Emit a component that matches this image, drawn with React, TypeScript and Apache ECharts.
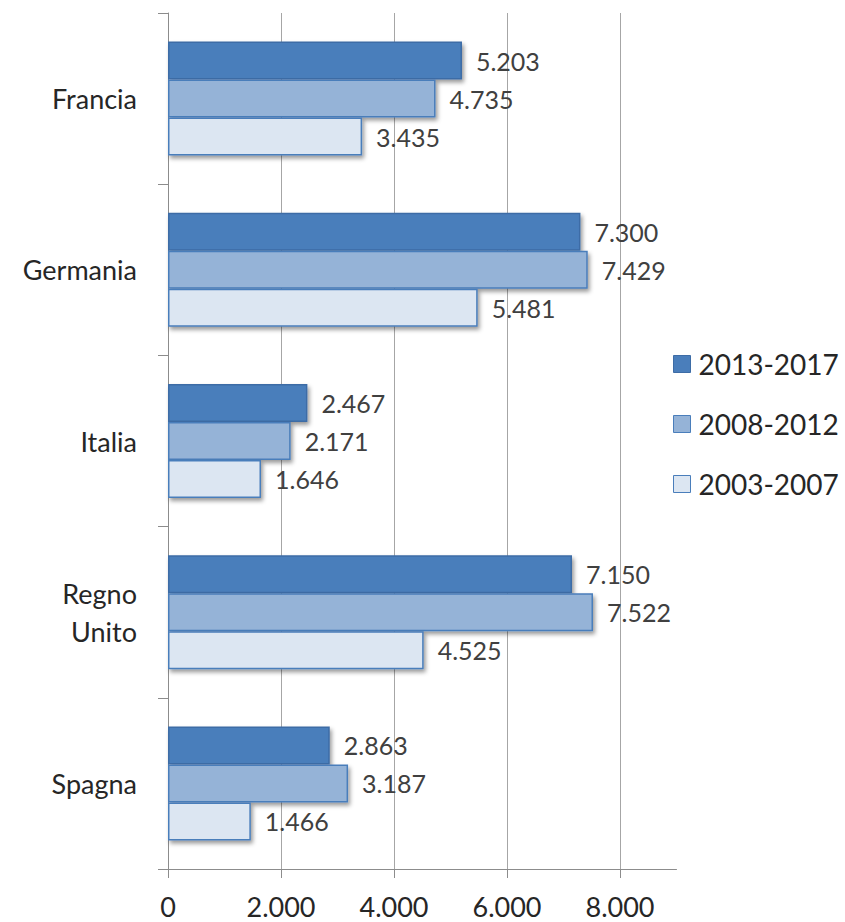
import React, { useEffect, useRef } from 'react';
import * as echarts from 'echarts';

const categories = ['Francia', 'Germania', 'Italia', 'Regno\nUnito', 'Spagna'];
const seriesNames = ['2013-2017', '2008-2012', '2003-2007'];
const values2013_2017 = [5203, 7300, 2467, 7150, 2863];
const values2008_2012 = [4735, 7429, 2171, 7522, 3187];
const values2003_2007 = [3435, 5481, 1646, 4525, 1466];
const xTicks = [0, 2000, 4000, 6000, 8000];
const xMin = 0;
const xMax = 9000;

const seriesValues = [values2013_2017, values2008_2012, values2003_2007];
const fills = ['#4A7EBB', '#95B3D7', '#DCE6F2'];
const borders = ['#3D6CA6', '#4A7EBB', '#4A7EBB'];

const fmt = (n: number) => String(n).replace(/\B(?=(\d{3})+(?!\d))/g, '.');
const FONT = 'Lato, "Open Sans", sans-serif';

export default function App() {
  const ref = useRef<HTMLDivElement>(null);
  useEffect(() => {
    if (!ref.current) return;
    const chart = echarts.init(ref.current, undefined, { renderer: 'svg' });
    chart.setOption({
      animation: false,
      backgroundColor: '#ffffff',
      textStyle: { fontFamily: FONT },
      grid: { left: 168, right: 168.5, top: 13, bottom: 53, containLabel: false },
      legend: {
        orient: 'vertical',
        left: 673,
        top: 349,
        padding: 0,
        icon: 'rect',
        itemWidth: 17,
        itemHeight: 17,
        itemGap: 30,
        data: seriesNames,
        itemStyle: { borderWidth: 1, shadowBlur: 0, shadowColor: 'transparent', shadowOffsetX: 0, shadowOffsetY: 0 },
        textStyle: { fontSize: 28, lineHeight: 30, color: '#262626', fontFamily: FONT, padding: [0, 0, 0, 3] },
      },
      xAxis: {
        type: 'value',
        min: xMin,
        max: xMax,
        axisLine: { show: true, lineStyle: { color: '#8C8C8C', width: 1 } },
        axisTick: { show: true, length: 9, customValues: xTicks, lineStyle: { color: '#8C8C8C' } },
        axisLabel: {
          customValues: xTicks,
          formatter: (v: number) => fmt(v),
          fontSize: 27,
          margin: 24,
          color: '#262626',
          fontFamily: FONT,
        },
        splitLine: { show: true, lineStyle: { color: '#A6A6A6', width: 1 } },
      },
      yAxis: {
        type: 'category',
        inverse: true,
        data: categories,
        axisLine: { show: true, lineStyle: { color: '#8C8C8C', width: 1 } },
        axisTick: { show: true, length: 10, lineStyle: { color: '#8C8C8C' } },
        axisLabel: { fontSize: 27, lineHeight: 38, margin: 31, color: '#262626', fontFamily: FONT },
      },
      series: seriesNames.map((name, i) => ({
        name,
        type: 'bar',
        data: seriesValues[i],
        barWidth: 38,
        barGap: '0%',
        itemStyle: {
          color: fills[i],
          borderColor: borders[i],
          borderWidth: 1.5,
          shadowColor: 'rgba(0,0,0,0.4)',
          shadowBlur: 4,
          shadowOffsetX: 2,
          shadowOffsetY: 3,
        },
        label: {
          show: true,
          position: 'right',
          distance: 14,
          formatter: (p: any) => fmt(p.value),
          fontSize: 25,
          color: '#404040',
          fontFamily: FONT,
        },
      })),
    });
    return () => chart.dispose();
  }, []);
  return (
    <div
      ref={ref}
      style={{ position: 'fixed', left: 0, top: 0, width: 845, height: 922, background: '#fff' }}
    />
  );
}
